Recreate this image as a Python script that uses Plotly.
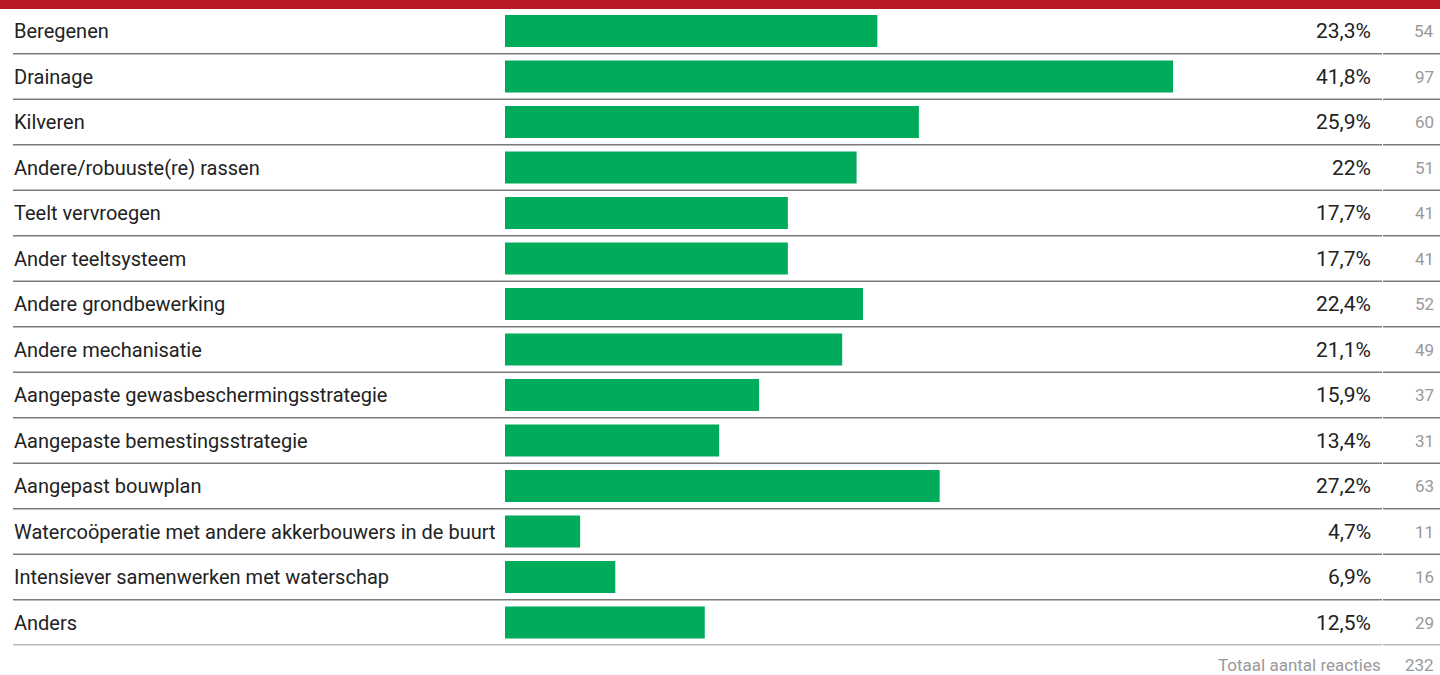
import plotly.graph_objects as go

categories = [
    "Beregenen",
    "Drainage",
    "Kilveren",
    "Andere/robuuste(re) rassen",
    "Teelt vervroegen",
    "Ander teeltsysteem",
    "Andere grondbewerking",
    "Andere mechanisatie",
    "Aangepaste gewasbeschermingsstrategie",
    "Aangepaste bemestingsstrategie",
    "Aangepast bouwplan",
    "Watercoöperatie met andere akkerbouwers in de buurt",
    "Intensiever samenwerken met waterschap",
    "Anders",
]
percentages = [23.3, 41.8, 25.9, 22.0, 17.7, 17.7, 22.4, 21.1, 15.9, 13.4, 27.2, 4.7, 6.9, 12.5]
pct_labels = ["23,3%", "41,8%", "25,9%", "22%", "17,7%", "17,7%", "22,4%", "21,1%",
              "15,9%", "13,4%", "27,2%", "4,7%", "6,9%", "12,5%"]
counts = [54, 97, 60, 51, 41, 41, 52, 49, 37, 31, 63, 11, 16, 29]
total_label = "Totaal aantal reacties"
total = 232

W, H = 1440, 675
FONT = "Roboto, sans-serif"
GREEN = "#00AB5B"
RED = "#BA1A24"

fig = go.Figure()
fig.add_trace(go.Bar(
    y=categories,
    x=percentages,
    orientation="h",
    marker=dict(color=GREEN, line=dict(width=0)),
    hoverinfo="skip",
))

# row geometry (pixels from top)
row_top = 8.25
row_bottom = 645.25

annotations = []
shapes = []
for i, cat in enumerate(categories):
    annotations.append(dict(x=12 / W, y=cat, xref="paper", yref="y", text=cat,
                            showarrow=False, xanchor="left", yanchor="middle",
                            font=dict(size=20, color="#222222", family=FONT)))
    annotations.append(dict(x=1373 / W, y=cat, xref="paper", yref="y", text=pct_labels[i],
                            showarrow=False, xanchor="right", yanchor="middle",
                            font=dict(size=21, color="#222222", family=FONT)))
    annotations.append(dict(x=1436 / W, y=cat, xref="paper", yref="y", text=str(counts[i]),
                            showarrow=False, xanchor="right", yanchor="middle",
                            font=dict(size=17, color="#999999", family=FONT)))
    shapes.append(dict(type="line", xref="paper", yref="y", x0=13 / W, x1=1382 / W,
                       y0=i + 0.5, y1=i + 0.5, line=dict(color="#7a7a7a", width=1.5)))
    shapes.append(dict(type="line", xref="paper", yref="y", x0=1383 / W, x1=1,
                       y0=i + 0.5, y1=i + 0.5, line=dict(color="#7a7a7a", width=1.5)))

annotations.append(dict(x=1383 / W, y=(H - 665) / H, xref="paper", yref="paper", text=total_label,
                        showarrow=False, xanchor="right", yanchor="middle",
                        font=dict(size=17, color="#999999", family=FONT)))
annotations.append(dict(x=1436 / W, y=(H - 665) / H, xref="paper", yref="paper", text=str(total),
                        showarrow=False, xanchor="right", yanchor="middle",
                        font=dict(size=17, color="#999999", family=FONT)))

# red band on top
shapes.append(dict(type="rect", xref="paper", yref="paper", x0=0, x1=1,
                   y0=(H - 9) / H, y1=1, fillcolor=RED, line=dict(width=0), layer="above"))

px_per_unit = (1173 - 505) / 41.8

fig.update_layout(
    width=W, height=H,
    margin=dict(l=0, r=0, t=0, b=0),
    paper_bgcolor="white", plot_bgcolor="white",
    showlegend=False,
    bargap=0.3,
    xaxis=dict(domain=[505 / W, 1], range=[0, (W - 505) / px_per_unit],
               visible=False, fixedrange=True),
    yaxis=dict(domain=[(H - row_bottom) / H, (H - row_top) / H],
               range=[len(categories) - 0.5, -0.5], visible=False, fixedrange=True),
    annotations=annotations,
    shapes=shapes,
)

fig.write_html(
    "out.html",
    config={"displayModeBar": False},
    post_script="document.body.style.margin='0';document.body.style.overflow='hidden';",
)
